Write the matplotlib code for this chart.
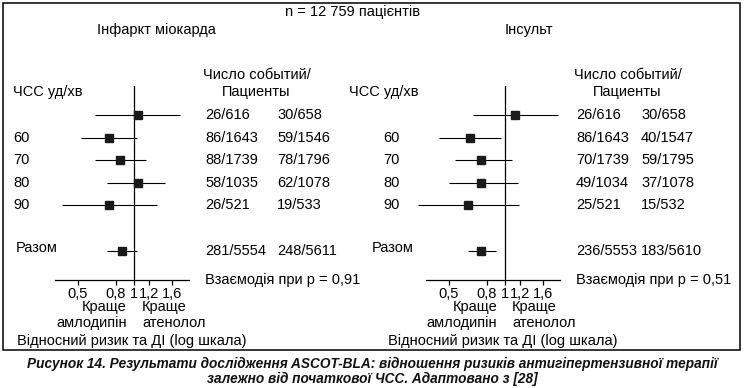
import math
import matplotlib
matplotlib.use('Agg')
import matplotlib.pyplot as plt
import matplotlib.transforms as mtransforms
from matplotlib.patches import Rectangle
from matplotlib import font_manager

# ---------------- data ----------------
row_labels = ['', '60', '70', '80', '90', 'Разом']
row_pos = [0, 1, 2, 3, 4, 6]

mi_hr = [1.05, 0.73, 0.84, 1.05, 0.73, 0.86]
mi_lo = [0.62, 0.52, 0.62, 0.72, 0.41, 0.72]
mi_hi = [1.77, 1.04, 1.16, 1.47, 1.33, 1.04]
mi_aml = ['26/616', '86/1643', '88/1739', '58/1035', '26/521', '281/5554']
mi_ate = ['30/658', '59/1546', '78/1796', '62/1078', '19/533', '248/5611']

st_hr = [1.13, 0.65, 0.74, 0.74, 0.63, 0.74]
st_lo = [0.67, 0.44, 0.54, 0.50, 0.34, 0.63]
st_hi = [1.93, 0.95, 1.09, 1.17, 1.19, 0.90]
st_aml = ['26/616', '86/1643', '70/1739', '49/1034', '25/521', '236/5553']
st_ate = ['30/658', '40/1547', '59/1795', '37/1078', '15/532', '183/5610']

tick_vals = [0.5, 0.8, 1, 1.2, 1.6]
tick_labels = ['0,5', '0,8', '1', '1,2', '1,6']

caption1 = ('Рисунок 14. Результати дослідження ASCOT-BLA: відношення ризиків '
            'антигіпертензивної терапії')
caption2 = 'залежно від початкової ЧСС. Адаптовано з [28]'

# ---------------- layout ----------------
W, H = 745, 388
avail = {f.name for f in font_manager.fontManager.ttflist}
BASE = 'Liberation Sans' if 'Liberation Sans' in avail else 'DejaVu Sans'
plt.rcParams['font.family'] = [BASE, 'DejaVu Sans']
plt.rcParams['font.size'] = 10.5

fig = plt.figure(figsize=(W / 100, H / 100), dpi=100)


def fx(x):
    return x / W


def fy(y):
    return 1 - y / H


XMIN, XMAX = 0.3, 2.1
PPU = 80.8          # pixels per ln unit
ROW0, ROWSTEP = 115, 22.6
AX_TOP, AX_BOT = 86, 280
ylim = ((AX_BOT - ROW0) / ROWSTEP, (AX_TOP - ROW0) / ROWSTEP)


def panel(x_one, title, title_x, hr, lo, hi, aml, ate, pval,
          hdr_x, lab_x, tot_x, c1, c2, hdr2_x, bl_r, bl_l, rel_x):
    left = x_one + math.log(XMIN) * PPU
    right = x_one + math.log(XMAX) * PPU
    ax = fig.add_axes([fx(left), fy(AX_BOT), (right - left) / W,
                       (AX_BOT - AX_TOP) / H])
    ax.set_xscale('log')
    ax.set_xlim(XMIN, XMAX)
    ax.set_ylim(*ylim)
    for s in ['top', 'right', 'left']:
        ax.spines[s].set_visible(False)
    ax.spines['bottom'].set_bounds(0.375, 1.98)
    ax.spines['bottom'].set_linewidth(0.9)
    ax.set_yticks([])
    ax.set_xticks(tick_vals)
    ax.set_xticklabels(tick_labels)
    ax.xaxis.set_minor_locator(matplotlib.ticker.NullLocator())
    ax.tick_params(axis='x', direction='out', length=3.6, width=0.9,
                   pad=1.5, labelsize=10.5)
    ax.patch.set_visible(False)
    ax.axvline(1, color='black', lw=0.9)

    for i, (p, h, l, u) in enumerate(zip(row_pos, hr, lo, hi)):
        ax.plot([l, u], [p, p], color='black', lw=0.8, solid_capstyle='butt')
        ms = 5.8 if row_labels[i] == 'Разом' else 5.2
        ax.plot([h], [p], marker='s', ms=ms, color='#1a1a1a', mec='#1a1a1a')

    tr = mtransforms.blended_transform_factory(fig.transFigure, ax.transData)
    for i, p in enumerate(row_pos):
        lx = tot_x if row_labels[i] == 'Разом' else lab_x
        yoff = -0.12 if row_labels[i] == 'Разом' else 0
        ax.text(fx(lx), p + yoff, row_labels[i], transform=tr, ha='left',
                va='center', clip_on=False)
        ax.text(fx(c1), p, aml[i], transform=tr, ha='left', va='center',
                clip_on=False)
        ax.text(fx(c2), p, ate[i], transform=tr, ha='left', va='center',
                clip_on=False)

    fig.text(fx(title_x), fy(30), title, ha='center', va='center')
    fig.text(fx(hdr_x), fy(92), 'ЧСС уд/хв', ha='left', va='center')
    fig.text(fx(c1 - 2), fy(75), 'Число событий/', ha='left', va='center')
    fig.text(fx(hdr2_x), fy(92), 'Пациенты', ha='center', va='center')
    fig.text(fx(c1), fy(280), 'Взаємодія при p = ' + pval, ha='left',
             va='center')
    fig.text(fx(bl_r), fy(307), 'Краще', ha='right', va='center')
    fig.text(fx(bl_r), fy(323), 'амлодипін', ha='right', va='center')
    fig.text(fx(bl_l), fy(307), 'Краще', ha='left', va='center')
    fig.text(fx(bl_l), fy(323), 'атенолол', ha='left', va='center')
    fig.text(fx(rel_x), fy(341), 'Відносний ризик та ДІ (log шкала)',
             ha='left', va='center')


panel(134, 'Інфаркт міокарда', 156, mi_hr, mi_lo, mi_hi, mi_aml, mi_ate,
      '0,91', hdr_x=13, lab_x=13, tot_x=16, c1=205, c2=277, hdr2_x=256,
      bl_r=127, bl_l=142, rel_x=17)
panel(505, 'Інсульт', 529, st_hr, st_lo, st_hi, st_aml, st_ate,
      '0,51', hdr_x=349, lab_x=383, tot_x=372, c1=576, c2=641, hdr2_x=627,
      bl_r=497, bl_l=512, rel_x=388)

fig.text(fx(285), fy(12), 'n = 12 759 пацієнтів', ha='left', va='center')

fig.patches.append(Rectangle((fx(3), fy(350)), fx(740) - fx(3),
                             fy(3) - fy(350), transform=fig.transFigure,
                             fill=False, edgecolor='black', lw=1.1))

cap_kw = dict(ha='center', va='center', fontweight='bold', fontstyle='italic',
              family=[BASE, 'DejaVu Sans'], fontsize=11, color='#111111')
t1 = fig.text(fx(372), fy(364), caption1, **cap_kw)
t2 = fig.text(fx(372), fy(379), caption2, **cap_kw)

# fit caption width to the reference (about 690 px)
fig.canvas.draw()
w = t1.get_window_extent().width
fs = 11 * 690 / w
t1.set_fontsize(fs)
t2.set_fontsize(fs)

fig.savefig('out.png', dpi=100)
